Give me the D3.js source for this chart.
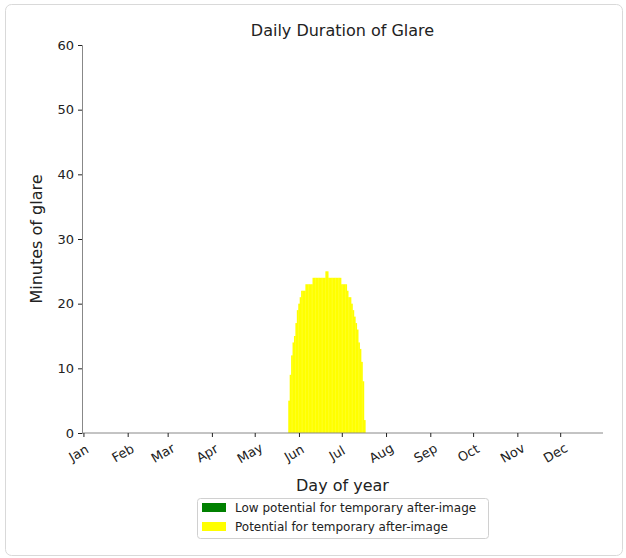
<!DOCTYPE html>
<html lang="en">
<head>
  <meta charset="utf-8">
  <title>Daily Duration of Glare</title>
  <script src="https://cdn.jsdelivr.net/npm/d3@7"></script>
  <style>
    body { margin: 0; background: #fff; font-family: "DejaVu Sans", sans-serif; }
  </style>
</head>
<body>
<script>
// day of year for each bar, and minutes of glare on that day
var days = d3.range(145, 199);
var minutes = [5, 9, 12, 14, 15, 17, 19, 20, 21, 22, 22, 22, 23, 23, 23, 23, 23,
  24, 24, 24, 24, 24, 24, 24, 24, 24, 25, 25,
  24, 24, 24, 24, 24, 24, 24, 24, 24, 23, 23, 23, 23,
  22, 21, 21, 20, 19, 18, 17, 16, 14, 13, 11, 8, 2];
var lowMinutes = days.map(function() { return 0; });

var monthNames = ["Jan", "Feb", "Mar", "Apr", "May", "Jun", "Jul", "Aug", "Sep", "Oct", "Nov", "Dec"];
var monthDays = [1, 32, 60, 91, 121, 152, 182, 213, 244, 274, 305, 335];
var yTicks = [0, 10, 20, 30, 40, 50, 60];
var legendLabels = ["Low potential for temporary after-image", "Potential for temporary after-image"];
var legendColors = ["#008000", "#ffff00"];

var W = 626, H = 558;
var mLeft = 82, mRight = 603, mTop = 45, mBottom = 433;

var svg = d3.select("body").append("svg")
    .attr("width", W)
    .attr("height", H);

// outer rounded frame
svg.append("rect")
    .attr("x", 5.5).attr("y", 4.5)
    .attr("width", 617).attr("height", 551)
    .attr("rx", 6)
    .attr("fill", "#fff")
    .attr("stroke", "#d9d9d9");

var x = d3.scaleLinear().domain([0, 365]).range([mLeft, mRight]);
var y = d3.scaleLinear().domain([0, 60]).range([mBottom, mTop]);

var data = days.map(function(d, i) { return {day: d, low: lowMinutes[i], pot: minutes[i]}; });

// bars (width = 1 day, centred)
svg.append("g").selectAll("rect")
    .data(data)
    .enter().append("rect")
    .attr("x", function(d) { return x(d.day - 0.5); })
    .attr("width", function(d) { return x(d.day + 0.5) - x(d.day - 0.5) + 0.3; })
    .attr("y", function(d) { return y(d.low + d.pot); })
    .attr("height", function(d) { return y(d.low) - y(d.low + d.pot); })
    .attr("fill", legendColors[1]);

// axes
var xAxis = svg.append("g")
    .attr("transform", "translate(0," + mBottom + ")")
    .call(d3.axisBottom(x).tickValues(monthDays)
      .tickFormat(function(d, i) { return monthNames[i]; })
      .tickSizeOuter(0).tickSize(4));
xAxis.select(".domain").attr("stroke", "#888").attr("d", "M" + mLeft + ",0H" + mRight);
xAxis.selectAll(".tick line").attr("stroke", "#222");
xAxis.selectAll(".tick text")
    .attr("font-size", 13)
    .attr("font-family", "DejaVu Sans")
    .attr("fill", "#222")
    .attr("text-anchor", "middle")
    .attr("y", 0).attr("dy", 0)
    .attr("transform", "translate(-3,24) rotate(-30)");

var yAxis = svg.append("g")
    .attr("transform", "translate(" + mLeft + ",0)")
    .call(d3.axisLeft(y).tickValues(yTicks).tickSizeOuter(0).tickSize(4).tickPadding(4));
yAxis.select(".domain").attr("stroke", "#888");
yAxis.selectAll(".tick line").attr("stroke", "#222");
yAxis.selectAll(".tick text")
    .attr("font-size", 13)
    .attr("font-family", "DejaVu Sans")
    .attr("fill", "#222");

// titles
svg.append("text")
    .attr("x", (mLeft + mRight) / 2).attr("y", 36)
    .attr("text-anchor", "middle")
    .attr("font-size", 16)
    .attr("fill", "#222")
    .text("Daily Duration of Glare");

svg.append("text")
    .attr("x", (mLeft + mRight) / 2).attr("y", 491)
    .attr("text-anchor", "middle")
    .attr("font-size", 16)
    .attr("fill", "#222")
    .text("Day of year");

svg.append("text")
    .attr("transform", "translate(42," + (mTop + mBottom) / 2 + ") rotate(-90)")
    .attr("text-anchor", "middle")
    .attr("font-size", 16)
    .attr("fill", "#222")
    .text("Minutes of glare");

// legend
var lg = svg.append("g").attr("transform", "translate(197,498)");
lg.append("rect")
    .attr("x", 0.5).attr("y", 0.5)
    .attr("width", 291).attr("height", 40)
    .attr("rx", 3)
    .attr("fill", "#fff")
    .attr("stroke", "#d0d0d0");
legendLabels.forEach(function(t, i) {
  lg.append("rect")
      .attr("x", 5).attr("y", 5 + i * 19)
      .attr("width", 24).attr("height", 9)
      .attr("fill", legendColors[i]);
  lg.append("text")
      .attr("x", 38).attr("y", 14 + i * 19)
      .attr("font-size", 12)
      .attr("fill", "#222")
      .text(t);
});
</script>
</body>
</html>
